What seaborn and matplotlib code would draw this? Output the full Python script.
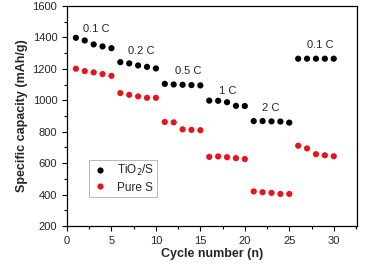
import numpy as np
import pandas as pd
import seaborn as sns
import matplotlib.pyplot as plt
from matplotlib.ticker import MultipleLocator

# Cycle numbers and capacities (mAh/g)
cycles = list(range(1, 31))
tio2_s = [1398, 1381, 1356, 1343, 1332,
          1243, 1235, 1222, 1213, 1203,
          1105, 1101, 1099, 1097, 1095,
          998, 997, 988, 965, 964,
          868, 868, 866, 865, 858,
          1265, 1265, 1265, 1265, 1265]
pure_s = [1201, 1186, 1178, 1167, 1156,
          1046, 1035, 1025, 1016, 1016,
          862, 860, 815, 812, 810,
          640, 643, 638, 632, 626,
          420, 415, 411, 404, 404,
          711, 694, 657, 650, 644]

rate_labels = ['0.1 C', '0.2 C', '0.5 C', '1 C', '2 C', '0.1 C']
label_x = [3.3, 8.4, 13.6, 18.1, 22.9, 28.5]
label_y = [1453, 1315, 1186, 1060, 948, 1352]

df = pd.DataFrame({
    'cycle': cycles * 2,
    'capacity': tio2_s + pure_s,
    'sample': ['TiO$_2$/S'] * 30 + ['Pure S'] * 30,
})

sns.set_style('ticks')
plt.rcParams['font.family'] = ['Liberation Sans', 'DejaVu Sans']

fig = plt.figure(figsize=(3.66, 2.64), dpi=100)
ax = fig.add_axes([0.183, 0.144, 0.792, 0.833])

sns.scatterplot(data=df, x='cycle', y='capacity', hue='sample',
                palette=['black', '#e8141b'], s=20, linewidth=0, ax=ax)

for t, x, y in zip(rate_labels, label_x, label_y):
    ax.text(x, y, t, ha='center', va='center', fontsize=8)

ax.set_xlim(0, 32.6)
ax.set_ylim(200, 1600)
ax.xaxis.set_major_locator(MultipleLocator(5))
ax.xaxis.set_minor_locator(MultipleLocator(2.5))
ax.yaxis.set_major_locator(MultipleLocator(200))
ax.yaxis.set_minor_locator(MultipleLocator(100))
ax.tick_params(which='both', labelsize=8, width=0.8, color='black')
ax.tick_params(which='major', length=3.5)
ax.tick_params(which='minor', length=2)
for sp in ax.spines.values():
    sp.set_visible(True)
    sp.set_linewidth(0.9)
    sp.set_color('black')

ax.set_xlabel('Cycle number (n)', fontsize=9, fontweight='bold', labelpad=2)
ax.set_ylabel('Specific capacity (mAh/g)', fontsize=9, fontweight='bold', labelpad=3)

leg = ax.legend(loc='upper left', bbox_to_anchor=(0.076, 0.30), fontsize=8.5,
                frameon=True, fancybox=False, edgecolor='#999999',
                handletextpad=0.7, borderpad=0.25, labelspacing=0.3,
                handlelength=1.4, borderaxespad=0)
leg.get_frame().set_linewidth(0.6)

fig.savefig('out.png', dpi=100)
